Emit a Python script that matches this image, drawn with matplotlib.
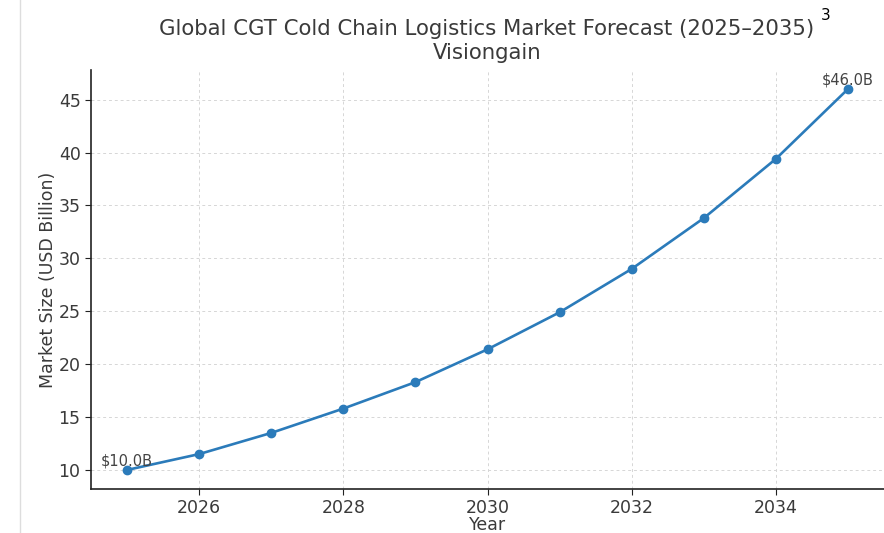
import numpy as np
import matplotlib
matplotlib.use("Agg")
import matplotlib.pyplot as plt
from matplotlib.lines import Line2D

# Forecast values
years = [2025, 2026, 2027, 2028, 2029, 2030, 2031, 2032, 2033, 2034, 2035]
market_size = [10.0, 11.5, 13.5, 15.8, 18.3, 21.4, 24.9, 29.0, 33.8, 39.4, 46.0]
first_label = "$10.0B"
last_label = "$46.0B"

text_col = "#3a3a3a"
line_col = "#2b7bba"

fig = plt.figure(figsize=(8.84, 5.33), dpi=100)
ax = fig.add_axes([91/884, (533-489)/533, (884-91)/884, (489-70)/533])

ax.plot(years, market_size, color=line_col, lw=1.9, marker="o", ms=6)
ax.set_xlim(2024.5, 2035.5)
ax.set_ylim(8.2, 47.8)
ax.set_xticks([2026, 2028, 2030, 2032, 2034])
ax.set_yticks([10, 15, 20, 25, 30, 35, 40, 45])
ax.grid(True, ls=(0, (3, 3)), color="#d6d6d6", lw=0.7)
ax.set_axisbelow(True)
for s in ["top", "right"]:
    ax.spines[s].set_visible(False)
for s in ["left", "bottom"]:
    ax.spines[s].set_color("#222222")
    ax.spines[s].set_linewidth(1.2)
ax.tick_params(labelsize=12.5, colors=text_col, length=4)
ax.tick_params(axis="both", color="#222222")

ax.set_xlabel("Year", fontsize=12.5, color=text_col, labelpad=-1)
ax.set_ylabel("Market Size (USD Billion)", fontsize=12.5, color=text_col, labelpad=1)

ax.annotate(first_label, (years[0], market_size[0]), xytext=(0, 1),
            textcoords="offset points", ha="center", va="bottom",
            fontsize=10.5, color="#444444")
ax.annotate(last_label, (years[-1], market_size[-1]), xytext=(0, 1),
            textcoords="offset points", ha="center", va="bottom",
            fontsize=10.5, color="#444444")

fig.text(487/884, 1 - 41/533, "Global CGT Cold Chain Logistics Market Forecast (2025\u20132035)\nVisiongain",
         ha="center", va="center", fontsize=15.3, color=text_col, linespacing=1.3)
fig.text(826/884, 1 - 15/533, "3", ha="center", va="center", fontsize=11, color="black")

# faint border line at the left edge of the screenshot
fig.add_artist(Line2D([20/884, 20/884], [0, 1], color="#dddddd", lw=1))

fig.savefig("out.png", dpi=100)
